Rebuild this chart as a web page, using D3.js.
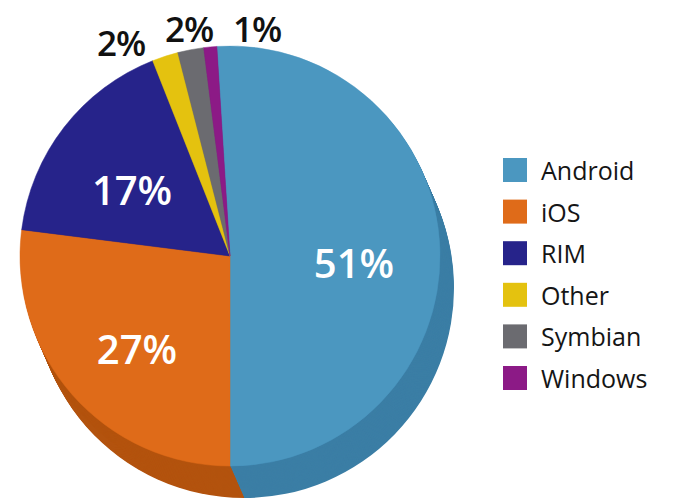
<!DOCTYPE html>
<html>
<head>
<meta charset="utf-8">
<script src="https://cdn.jsdelivr.net/npm/d3@7"></script>
<style>
  body { margin: 0; background: #fff; }
  svg text { font-family: "Open Sans", "Noto Sans", sans-serif; }
</style>
</head>
<body>
<div id="viz"></div>
<script>
// market share, clockwise from 12 o'clock
const categories = ['Android', 'iOS', 'RIM', 'Other', 'Symbian', 'Windows'];
const shares = [51, 27, 17, 2, 2, 1];
const topColors = ['#4b97c0', '#df6b19', '#26238a', '#e4c20f', '#6b6b70', '#8c1a86'];
const sideColors = ['#3b7ea5', '#b3530e', '#1b1966', '#b39808', '#4f4f53', '#681263'];
const insideLabel = [true, true, true, false, false, false];

const width = 678, height = 502;
const cx = 230, cy = 256, r = 210;
const depth = { x: 14, y: 32, steps: 32 };

const svg = d3.select('#viz').append('svg')
  .attr('width', width)
  .attr('height', height);

const rows = categories.map((c, i) => ({ name: c, value: shares[i], i }));

const pie = d3.pie()
  .sort(null)
  .value(d => d.value)
  .startAngle(-3.6 * Math.PI / 180)
  .endAngle(2 * Math.PI - 3.6 * Math.PI / 180);
const arcs = pie(rows);
const arc = d3.arc().innerRadius(0).outerRadius(r);

// extruded side: stacked darker copies, back to front
for (let k = depth.steps; k >= 1; k--) {
  const g = svg.append('g')
    .attr('transform', `translate(${cx + depth.x * k / depth.steps},${cy + depth.y * k / depth.steps})`);
  g.selectAll('path')
    .data(arcs)
    .join('path')
    .attr('d', arc)
    .attr('fill', d => sideColors[d.data.i]);
}

const face = svg.append('g').attr('transform', `translate(${cx},${cy})`);
face.selectAll('path')
  .data(arcs)
  .join('path')
  .attr('d', arc)
  .attr('fill', d => topColors[d.data.i])
  .attr('stroke', d => topColors[d.data.i])
  .attr('stroke-width', 0.5);

// big labels inside
const inner = d3.arc().innerRadius(124).outerRadius(124);
face.selectAll('text.in')
  .data(arcs.filter(d => insideLabel[d.data.i]))
  .join('text')
  .attr('class', 'in')
  .attr('transform', d => {
    const [x, y] = inner.centroid(d);
    return `translate(${x},${y + 10})`;
  })
  .attr('text-anchor', 'middle')
  .attr('dominant-baseline', 'central')
  .attr('fill', '#fff')
  .style('font-size', '40px')
  .style('font-weight', 600)
  .text(d => d.data.value + '%');

// small slices: labels in a tight row above the pie, anchored on the middle one
const outer = d3.arc().innerRadius(r + 8).outerRadius(r + 8);
const small = arcs.filter(d => !insideLabel[d.data.i]);
const [ax, ay] = outer.centroid(small[1]);
face.selectAll('text.out')
  .data(small)
  .join('text')
  .attr('class', 'out')
  .attr('x', (d, j) => ax + (j - 1) * 68)
  .attr('y', (d, j) => j === 0 ? ay + 14 : ay)
  .attr('text-anchor', 'middle')
  .attr('fill', '#111')
  .style('font-size', '35px')
  .style('font-weight', 600)
  .style('letter-spacing', '-1px')
  .text(d => d.data.value + '%');

// legend
const y = d3.scalePoint().domain(categories).range([170, 378]);
const legend = svg.append('g').attr('transform', 'translate(503,0)');
const item = legend.selectAll('g')
  .data(categories)
  .join('g')
  .attr('transform', d => `translate(0,${y(d)})`);
item.append('rect')
  .attr('x', 0).attr('y', -12)
  .attr('width', 24).attr('height', 24)
  .attr('fill', (d, i) => topColors[i]);
item.append('text')
  .attr('x', 38)
  .attr('dominant-baseline', 'central')
  .attr('fill', '#151515')
  .style('font-size', '25px')
  .text(d => d);
</script>
</body>
</html>
